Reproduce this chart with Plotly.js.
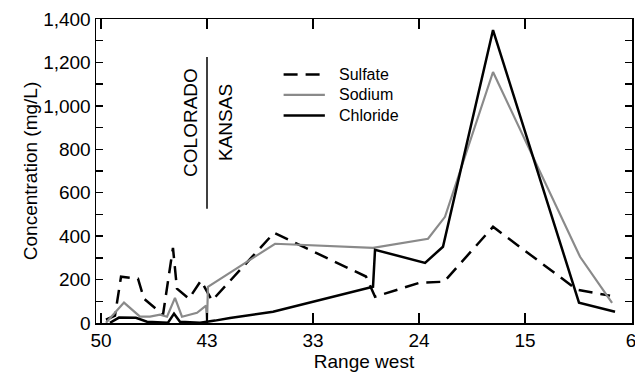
<!DOCTYPE html>
<html>
<head>
<meta charset="utf-8">
<script src="https://cdn.plot.ly/plotly-3.0.1.min.js"></script>
<style>html,body{margin:0;padding:0;background:#fff;}#chart{width:635px;height:375px;}</style>
</head>
<body>
<div id="chart"></div>
<script>
// x positions are in tick-slot units: 0 = "50", 1 = "43", ... 5 = "6" (ticks equally spaced)
const tickPositions = [0, 1, 2, 3, 4, 5];
const tickLabels = ['50', '43', '33', '24', '15', '6'];

// y ticks every 100 mg/L, labelled every 200
const yTickVals = [0, 100, 200, 300, 400, 500, 600, 700, 800, 900, 1000, 1100, 1200, 1300, 1400];
const yTickText = ['0', '', '200', '', '400', '', '600', '', '800', '', '1,000', '', '1,200', '', '1,400'];

const sulfateX = [0.047, 0.132, 0.189, 0.349, 0.406, 0.585, 0.679, 0.717, 0.830, 0.943, 1.047, 1.632, 2.500, 2.585, 3.009, 3.236, 3.698, 4.491, 4.802];
const sulfateY = [15, 34, 213, 204, 112, 38, 346, 158, 112, 195, 103, 415, 214, 121, 186, 190, 443, 153, 126];

const sodiumX = [0.047, 0.217, 0.368, 0.462, 0.557, 0.623, 0.698, 0.764, 0.906, 0.991, 1.000, 1.009, 1.642, 2.566, 3.085, 3.245, 3.698, 4.519, 4.821];
const sodiumY = [1, 94, 29, 29, 38, 29, 116, 29, 47, 80, 1, 167, 365, 346, 388, 489, 1156, 305, 93];

const chlorideX = [0.085, 0.170, 0.330, 0.434, 0.632, 0.689, 0.745, 0.934, 1.075, 1.217, 1.623, 2.566, 2.585, 3.057, 3.226, 3.698, 4.509, 4.849];
const chlorideY = [1, 25, 24, 6, 1, 43, 6, 1, 11, 23, 52, 167, 337, 277, 351, 1349, 94, 52];

const seriesNames = ['Sulfate', 'Sodium', 'Chloride'];

const borderX = 1;            // Colorado / Kansas state line (range 43)
const borderY = [526, 1225];
const stateLabels = ['COLORADO', 'KANSAS'];

const FONT = 'Liberation Sans, Arial, Helvetica, sans-serif';
const styles = [
  {color: '#000', width: 2.5, dash: '14px,8px'},
  {color: '#8a8a8a', width: 2.2},
  {color: '#000', width: 2.5}
];

const xs = [sulfateX, sodiumX, chlorideX];
const ys = [sulfateY, sodiumY, chlorideY];
const traces = seriesNames.map((n, i) => ({x: xs[i], y: ys[i], name: n, mode: 'lines', line: styles[i], showlegend: false}));

// compact legend (line samples + labels) placed in paper coordinates
const legendX0 = 0.35, legendX1 = 0.427, legendTextX = 0.45;
const legendRowsY = [0.8176, 0.7503, 0.6829];
const shapes = [
  {type: 'line', xref: 'x', yref: 'y', x0: borderX, x1: borderX, y0: borderY[0], y1: borderY[1], line: {color: '#000', width: 1.5}}
];
const annotations = [
  {text: stateLabels[0], x: 0.849, y: 926, xref: 'x', yref: 'y', showarrow: false, textangle: -90, font: {family: FONT, size: 19}},
  {text: stateLabels[1], x: 1.17, y: 921, xref: 'x', yref: 'y', showarrow: false, textangle: -90, font: {family: FONT, size: 19}}
];
seriesNames.forEach((n, i) => {
  shapes.push({type: 'line', xref: 'paper', yref: 'paper', x0: legendX0, x1: legendX1, y0: legendRowsY[i], y1: legendRowsY[i], line: styles[i]});
  annotations.push({text: n, xref: 'paper', yref: 'paper', x: legendTextX, y: legendRowsY[i], xanchor: 'left', yanchor: 'middle', showarrow: false, font: {family: FONT, size: 16}});
});

const layout = {
  width: 635, height: 375,
  margin: {l: 96, r: 3, t: 19, b: 52, pad: 0},
  paper_bgcolor: '#fff', plot_bgcolor: '#fff',
  font: {family: FONT, size: 19, color: '#000'},
  showlegend: false,
  xaxis: {
    range: [-0.047, 5.009], tickmode: 'array', tickvals: tickPositions, ticktext: tickLabels,
    ticks: 'inside', ticklen: 10, tickwidth: 1.5, tickcolor: '#000',
    showline: true, linecolor: '#000', linewidth: 1.5, mirror: 'allticks',
    showgrid: false, zeroline: false, ticklabeloverflow: 'allow',
    title: {text: 'Range west', font: {family: FONT, size: 19}, standoff: 2}
  },
  yaxis: {
    range: [0, 1400], tickmode: 'array', tickvals: yTickVals, ticktext: yTickText,
    ticks: 'inside', ticklen: 7, tickwidth: 1.5, tickcolor: '#000',
    showline: true, linecolor: '#000', linewidth: 1.5, mirror: 'allticks',
    showgrid: false, zeroline: false,
    title: {text: 'Concentration (mg/L)', font: {family: FONT, size: 19}, standoff: 0}
  },
  shapes: shapes,
  annotations: annotations
};

Plotly.newPlot('chart', traces, layout, {displayModeBar: false, staticPlot: true});
</script>
</body>
</html>
